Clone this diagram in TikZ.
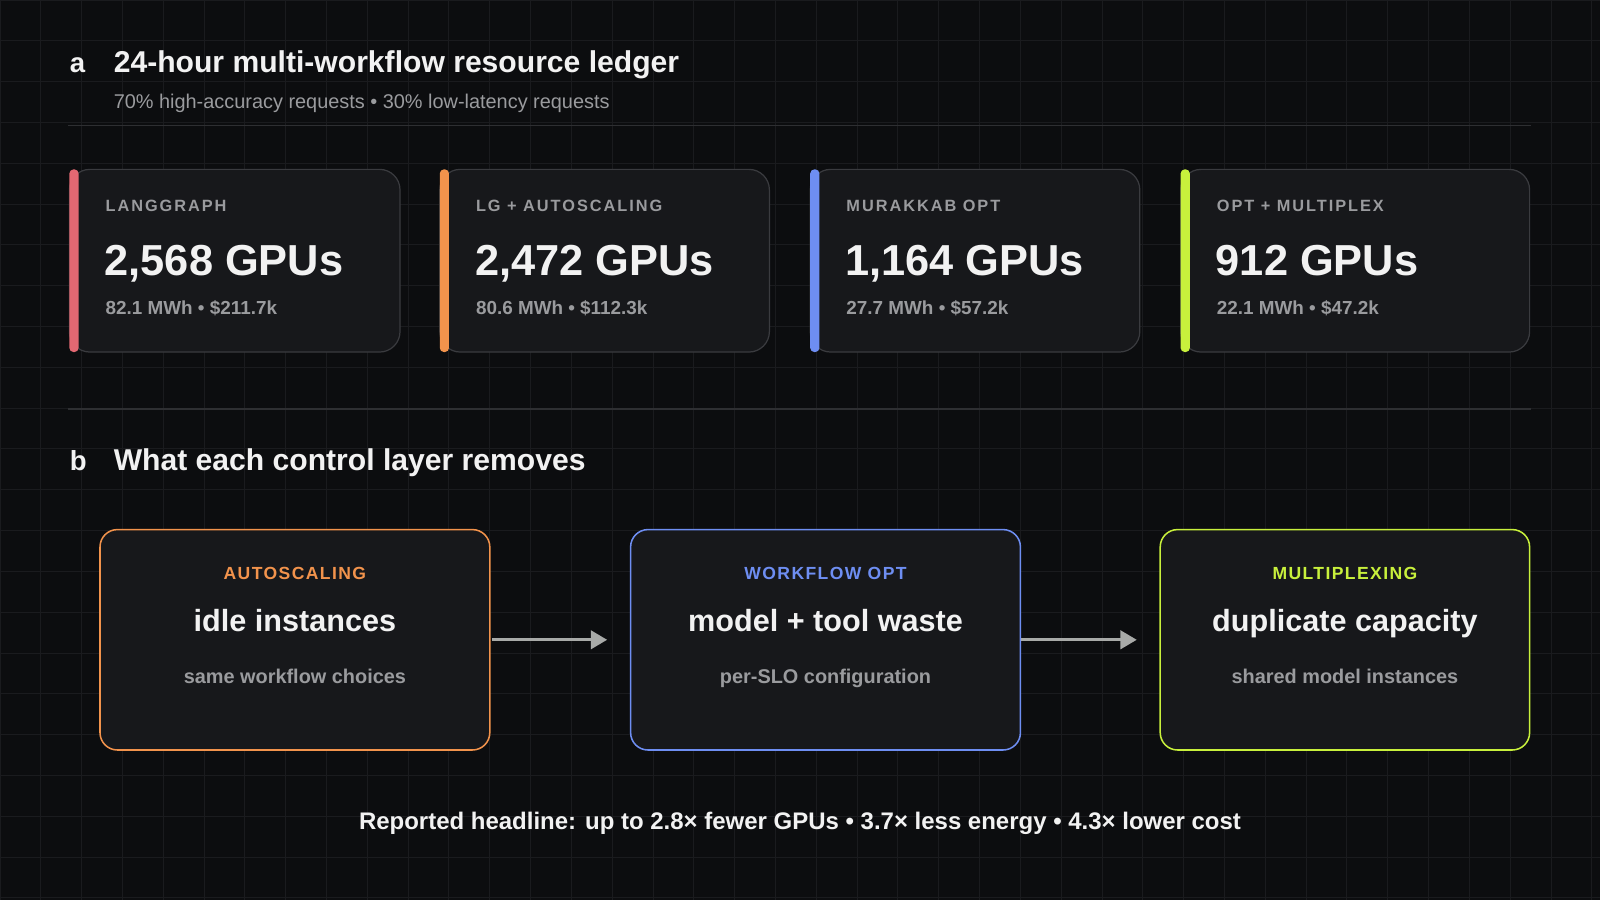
\documentclass[tikz,border=0pt]{standalone}
\usepackage{fontspec}
\setmainfont{Liberation Sans}
\usetikzlibrary{arrows.meta}
\definecolor{bg}{HTML}{0C0D0F}
\definecolor{grid}{HTML}{1A1B1E}
\definecolor{card}{HTML}{17181B}
\definecolor{cardb}{HTML}{3A3B3F}
\definecolor{cred}{HTML}{E36872}
\definecolor{corange}{HTML}{F2934C}
\definecolor{cblue}{HTML}{6E8EF2}
\definecolor{clime}{HTML}{C8F03C}
\definecolor{gtxt}{HTML}{9A9B9E}
\definecolor{wtxt}{HTML}{F2F2F2}
\definecolor{rule}{HTML}{2E2F32}
\definecolor{arr}{HTML}{A8AAA8}
\begin{document}
\begin{tikzpicture}[x=1pt,y=-1pt,
 lbl/.style={anchor=base west,text=gtxt,font=\fontsize{16}{18}\selectfont\bfseries\addfontfeature{LetterSpace=12}},
 big/.style={anchor=base west,text=wtxt,font=\fontsize{42.5}{48}\selectfont\bfseries},
 sub/.style={anchor=base west,text=gtxt,font=\fontsize{18.5}{20}\selectfont\bfseries},
 cardbox/.style={draw=cardb,line width=1.2pt,fill=card,rounded corners=20pt},
 flow/.style={line width=1.5pt,fill=card,rounded corners=17pt},
 flbl/.style={anchor=base,font=\fontsize{17.2}{20}\selectfont\bfseries\addfontfeature{LetterSpace=8}},
 fmain/.style={anchor=base,text=wtxt,font=\fontsize{30}{32}\selectfont\bfseries},
 fsub/.style={anchor=base,text=gtxt,font=\fontsize{19.5}{21}\selectfont\bfseries},
 conn/.style={draw=arr,line width=3pt,-{Triangle[length=16pt,width=18pt]},shorten >=0pt}]
\useasboundingbox (0,0) rectangle (1568,882);
\fill[bg] (0,0) rectangle (1568,882);
\foreach \i in {0,40,...,1560} \draw[grid,line width=1pt] (\i,0) -- (\i,882);
\foreach \j in {0,40,...,880} \draw[grid,line width=1pt] (0,\j) -- (1568,\j);
% headings
\node[anchor=base west,text=wtxt,font=\fontsize{27}{30}\selectfont\bfseries] (ta) at (65,71) {a};
\node[anchor=base west,text=wtxt,font=\fontsize{29.5}{32}\selectfont\bfseries] (tat) at (108,71) {24-hour multi-workflow resource ledger};
\node[anchor=base west,text=gtxt,font=\fontsize{19.5}{22}\selectfont] (sat) at (108,106) {70\% high-accuracy requests • 30\% low-latency requests};
\draw[rule,line width=1.5pt] (67,123) -- (1500,123);
\draw[rule,line width=1.5pt] (67,401) -- (1500,401);
\node[anchor=base west,text=wtxt,font=\fontsize{27}{30}\selectfont\bfseries] (tb) at (65,461) {b};
\node[anchor=base west,text=wtxt,font=\fontsize{29.5}{32}\selectfont\bfseries] (tbt) at (108,461) {What each control layer removes};
% cards
\foreach \x/\w/\c/\l/\n/\s [count=\k] in {68/324/cred/LANGGRAPH/{2,568 GPUs}/{82.1 MWh • \$211.7k},
  431/323/corange/{LG + AUTOSCALING}/{2,472 GPUs}/{80.6 MWh • \$112.3k},
  794/323/cblue/{MURAKKAB OPT}/{1,164 GPUs}/{27.7 MWh • \$57.2k},
  1157/342/clime/{OPT + MULTIPLEX}/{912 GPUs}/{22.1 MWh • \$47.2k}}{
  \draw[cardbox] (\x,166) rectangle (\x+\w,345);
  \fill[\c,rounded corners=4pt] (\x,166) rectangle (\x+9,345);
  \node[lbl] (cl\k) at (\x+32,207) {\l};
  \node[big] (cb\k) at (\x+31,270) {\n};
  \node[sub] (cs\k) at (\x+32,308) {\s};
}
% flow boxes
\draw[flow,draw=corange] (98,519) rectangle (480,735);
\node[flbl,text=corange] (l1) at (289,568) {AUTOSCALING};
\node[fmain] (m1) at (289,619) {idle instances};
\node[fsub] (s1) at (289,670) {same workflow choices};
\draw[flow,draw=cblue] (618,519) rectangle (1000,735);
\node[flbl,text=cblue] (l2) at (809,568) {WORKFLOW OPT};
\node[fmain] (m2) at (809,619) {model + tool waste};
\node[fsub] (s2) at (809,670) {per-SLO configuration};
\draw[flow,draw=clime] (1137,519) rectangle (1499,735);
\node[flbl,text=clime] (l3) at (1318,568) {MULTIPLEXING};
\node[fmain] (m3) at (1318,619) {duplicate capacity};
\node[fsub] (s3) at (1318,670) {shared model instances};
\coordinate (a1s) at (482,627); \coordinate (a1e) at (595,627);
\coordinate (a2s) at (1001,627); \coordinate (a2e) at (1114,627);
\draw[conn] (a1s) -- (a1e);
\draw[conn] (a2s) -- (a2e);
\node[anchor=base,text=wtxt,font=\fontsize{23.5}{25}\selectfont\bfseries] (foot) at (784,813) {Reported headline: up to 2.8× fewer GPUs • 3.7× less energy • 4.3× lower cost};
\end{tikzpicture}
\end{document}
